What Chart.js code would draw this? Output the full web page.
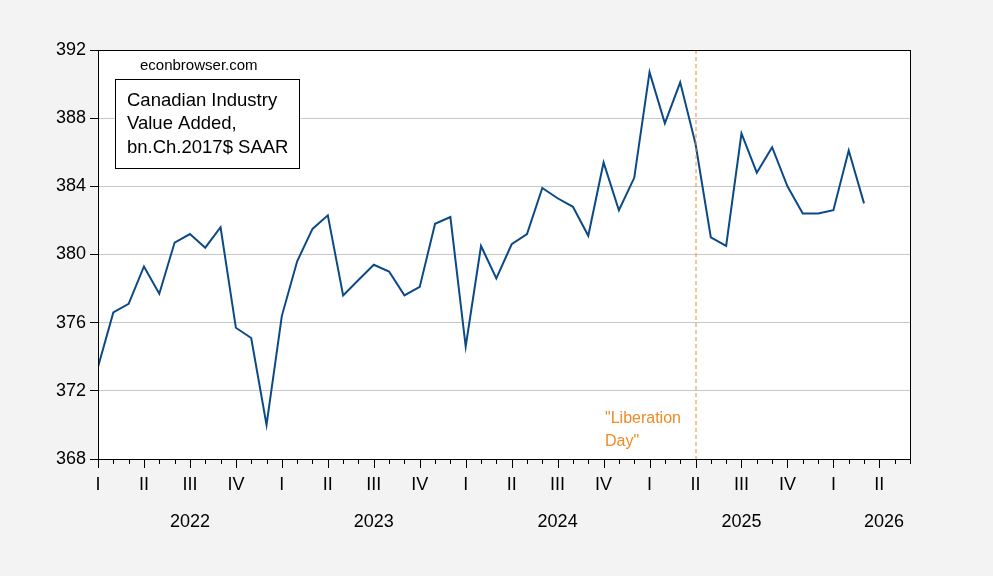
<!DOCTYPE html>
<html>
<head>
<meta charset="utf-8">
<script src="https://cdn.jsdelivr.net/npm/chart.js@4"></script>
<style>
  html, body { margin: 0; padding: 0; background: #f3f3f3; }
  #wrap { width: 993px; height: 576px; }
</style>
</head>
<body>
<div id="wrap"><canvas id="c"></canvas></div>
<script>
// monthly, Jan 2022 (index 0) .. Mar 2026
const startYear = 2022
const values = [
  373.4, 376.6, 377.1, 379.3, 377.7, 380.7, 381.2, 380.4, 381.6, 375.7, 375.1, 370.0,
  376.4, 379.6, 381.5, 382.3, 377.6, 378.5, 379.4, 379.0, 377.6, 378.1, 381.8, 382.2,
  374.6, 380.5, 378.6, 380.6, 381.2, 383.9, 383.3, 382.8, 381.1, 385.4, 382.6, 384.5,
  390.7, 387.7, 390.1, 386.5, 381.0, 380.5, 387.1, 384.8, 386.3, 384.0, 382.4, 382.4,
  382.6, 386.1, 383.0
]
const quarterLabels = ['I', 'II', 'III', 'IV']
const years = [2022, 2023, 2024, 2025, 2026]
const yTicks = [368, 372, 376, 380, 384, 388, 392]
const eventMonth = 39 // April 2025
const lastMonth = 53

const points = values.map((v, i) => ({ x: i, y: v }))
const FONT = '"Liberation Sans", Arial, sans-serif'

const extras = {
  id: 'extras',
  beforeDraw(chart) {
    const { ctx, chartArea: a } = chart
    ctx.save()
    ctx.fillStyle = '#fff'
    ctx.fillRect(a.left, a.top, a.right - a.left, a.bottom - a.top)
    ctx.restore()
  },
  afterDatasetsDraw(chart) {
    const { ctx, chartArea: a, scales: { x, y } } = chart
    ctx.save()
    // event line
    const ex = x.getPixelForValue(eventMonth)
    ctx.strokeStyle = '#f08a24'
    ctx.lineWidth = 1
    ctx.setLineDash([4, 3])
    ctx.beginPath()
    ctx.moveTo(ex + 0.5, a.top)
    ctx.lineTo(ex + 0.5, a.bottom)
    ctx.stroke()
    ctx.setLineDash([])
    ctx.fillStyle = '#f08a24'
    ctx.font = '16px ' + FONT
    ctx.textBaseline = 'alphabetic'
    ctx.fillText('"Liberation', 605, 423)
    ctx.fillText('Day"', 605, 446)

    // border
    ctx.strokeStyle = '#000'
    ctx.lineWidth = 1
    ctx.strokeRect(a.left + 0.5, a.top + 0.5, a.right - a.left, a.bottom - a.top)

    // x ticks
    ctx.beginPath()
    for (let m = 0; m <= lastMonth; m++) {
      const px = Math.round(x.getPixelForValue(m)) + 0.5
      ctx.moveTo(px, a.bottom)
      ctx.lineTo(px, a.bottom + (m % 3 === 0 ? 9 : 5))
    }
    ctx.stroke()

    ctx.fillStyle = '#000'
    ctx.font = '18px ' + FONT
    ctx.textAlign = 'center'
    ctx.textBaseline = 'middle'
    for (let m = 0; m <= lastMonth; m += 3) {
      ctx.fillText(quarterLabels[(m / 3) % 4], x.getPixelForValue(m), 485)
    }
    years.forEach((yr, i) => {
      const mid = yr === 2026 ? 51.3 : i * 12 + 6
      ctx.fillText(String(yr), x.getPixelForValue(mid), 522)
    })

    // legend box
    ctx.textAlign = 'left'
    ctx.font = '15px ' + FONT
    ctx.fillText('econbrowser.com', 140, 66)
    ctx.fillStyle = '#fff'
    ctx.fillRect(115, 79, 184, 89)
    ctx.strokeRect(115.5, 79.5, 184, 89)
    ctx.fillStyle = '#000'
    ctx.font = '18.5px ' + FONT
    ctx.textBaseline = 'alphabetic'
    ctx.fillText('Canadian Industry', 127, 106)
    ctx.fillText('Value Added,', 127, 129)
    ctx.fillText('bn.Ch.2017$ SAAR', 127, 153)
    ctx.restore()
  }
}

new Chart(document.getElementById('c'), {
  type: 'line',
  data: {
    datasets: [{
      data: points,
      borderColor: '#0b4a86',
      borderWidth: 2,
      pointRadius: 0,
      tension: 0,
    }],
  },
  options: {
    responsive: true,
    maintainAspectRatio: false,
    animation: false,
    layout: { padding: { top: 50, right: 83, left: 0, bottom: 0 } },
    plugins: { legend: { display: false }, tooltip: { enabled: false } },
    scales: {
      x: {
        type: 'linear',
        min: 0,
        max: lastMonth,
        grid: { display: false },
        border: { display: false },
        ticks: { display: false },
        afterFit(s) { s.height = 117 },
      },
      y: {
        min: 368,
        max: 392,
        afterBuildTicks(s) { s.ticks = yTicks.map((v) => ({ value: v })) },
        afterFit(s) { s.width = 98 },
        border: { display: false },
        grid: {
          color: (c) => (c.tick.value === 368 || c.tick.value === 392) ? 'rgba(0,0,0,0)' : '#c8c8c8',
          tickColor: '#000',
          tickLength: 8,
        },
        ticks: { color: '#000', font: { family: FONT, size: 18 }, padding: 4 },
      },
    },
  },
  plugins: [extras],
})
</script>
</body>
</html>
